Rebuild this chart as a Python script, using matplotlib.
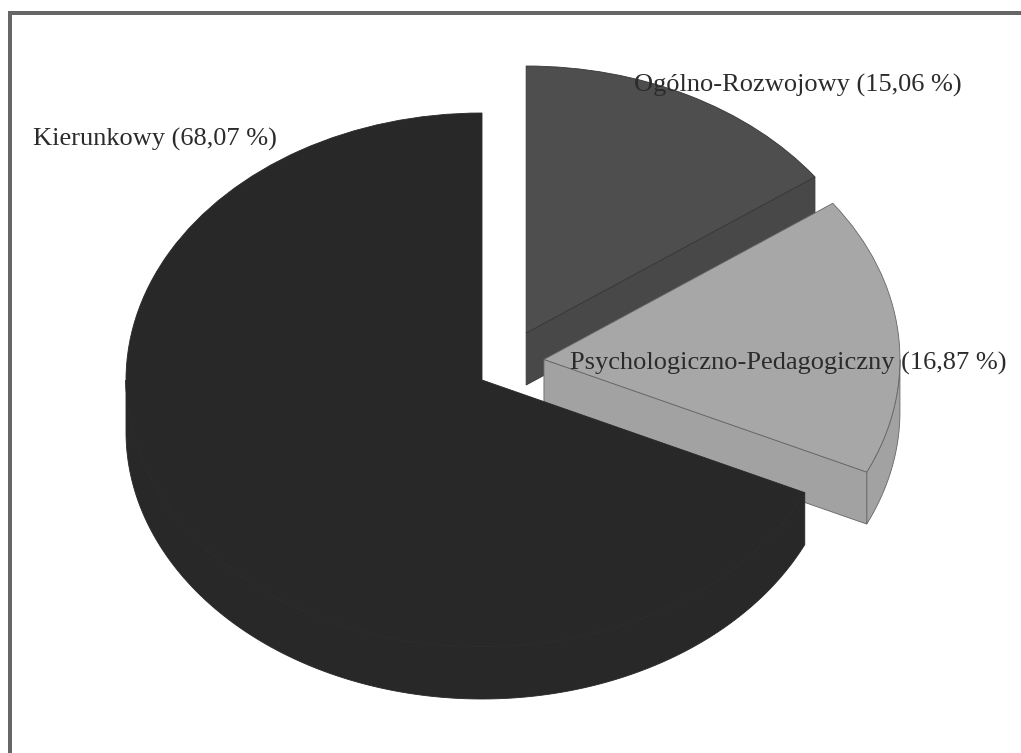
import numpy as np
import matplotlib
matplotlib.use('Agg')
import matplotlib.pyplot as plt
from matplotlib.patches import Rectangle

labels = ['Kierunkowy (68,07 %)', 'Psychologiczno-Pedagogiczny (16,87 %)', 'Ogólno-Rozwojowy (15,06 %)']
values = [68.07, 16.87, 15.06]
top_colours = ['#282828', '#a7a7a7', '#4e4e4e']
side_colours = ['#282828', '#a2a2a2', '#484848']
edge_colours = ['#282828', '#666666', '#363636']

W, H = 1021, 753
# pie ellipse in pixels
rx, ry = 356, 267
cx, cy = 482, 380
depth = 52 / ry
# slice centres, pulled out from the main pie
offsets = [(0, 0), (0.174, 0.077), (0.124, 0.176)]
# draw back slice first, main slice last
draw_order = [2, 1, 0]
label_pos = [(33, 146), (570, 370), (634, 92)]

fig = plt.figure(figsize=(W / 100, H / 100), dpi=100, facecolor='white')
ax = fig.add_axes([0, 0, 1, 1])

wedges, _ = ax.pie(values, startangle=90, colors=top_colours, radius=1)
ax.set_aspect('auto')
ax.set_xlim(-cx / rx, (W - cx) / rx)
ax.set_ylim(-(H - cy) / ry, cy / ry)
ax.axis('off')


def radial_face(x0, y0, ang, colour, edge, z):
    xe = x0 + np.cos(np.radians(ang))
    ye = y0 + np.sin(np.radians(ang))
    ax.fill([x0, xe, xe, x0], [y0, ye, ye - depth, y0 - depth], facecolor=colour, edgecolor=edge, lw=0.6, zorder=z)


def arc_side(x0, y0, t1, t2, colour, edge, z):
    # only the front half of the rim can be seen
    a1, a2 = max(t1, 180), min(t2, 360)
    if a2 <= a1:
        return
    t = np.radians(np.linspace(a1, a2, 200))
    xs = x0 + np.cos(t)
    ys = y0 + np.sin(t)
    ax.fill(np.r_[xs, xs[::-1]], np.r_[ys, ys[::-1] - depth], facecolor=colour, edgecolor=edge, lw=0.6, zorder=z)


for rank, i in enumerate(draw_order):
    w = wedges[i]
    z = 2 + rank * 3
    x0, y0 = offsets[i]
    w.set_center((x0, y0))
    w.set_edgecolor(edge_colours[i])
    w.set_linewidth(0.6)
    w.set_zorder(z + 2)
    t1, t2 = w.theta1, w.theta2
    if i == 0:
        arc_side(x0, y0, t1, t2, side_colours[i], side_colours[i], z)
    elif i == 1:
        # this slice spans 0 deg, so its rim is split across the wrap
        arc_side(x0, y0, t1, 360, side_colours[i], edge_colours[i], z)
        radial_face(x0, y0, t1, side_colours[i], edge_colours[i], z + 1)
    else:
        radial_face(x0, y0, t1, side_colours[i], edge_colours[i], z + 1)

# frame: only the top and left rules are in the picture
fig.add_artist(Rectangle((8 / W, 0), 4 / W, 1 - 11 / H, transform=fig.transFigure, facecolor='#666666', edgecolor='none'))
fig.add_artist(Rectangle((8 / W, 1 - 15 / H), 1 - 8 / W, 4 / H, transform=fig.transFigure, facecolor='#666666', edgecolor='none'))

for lab, (px, py) in zip(labels, label_pos):
    fig.text(px / W, 1 - py / H, lab, family='Liberation Serif', fontsize=19, color='#2b2b2b', ha='left', va='baseline', zorder=20)

fig.savefig('out.png', dpi=100)
